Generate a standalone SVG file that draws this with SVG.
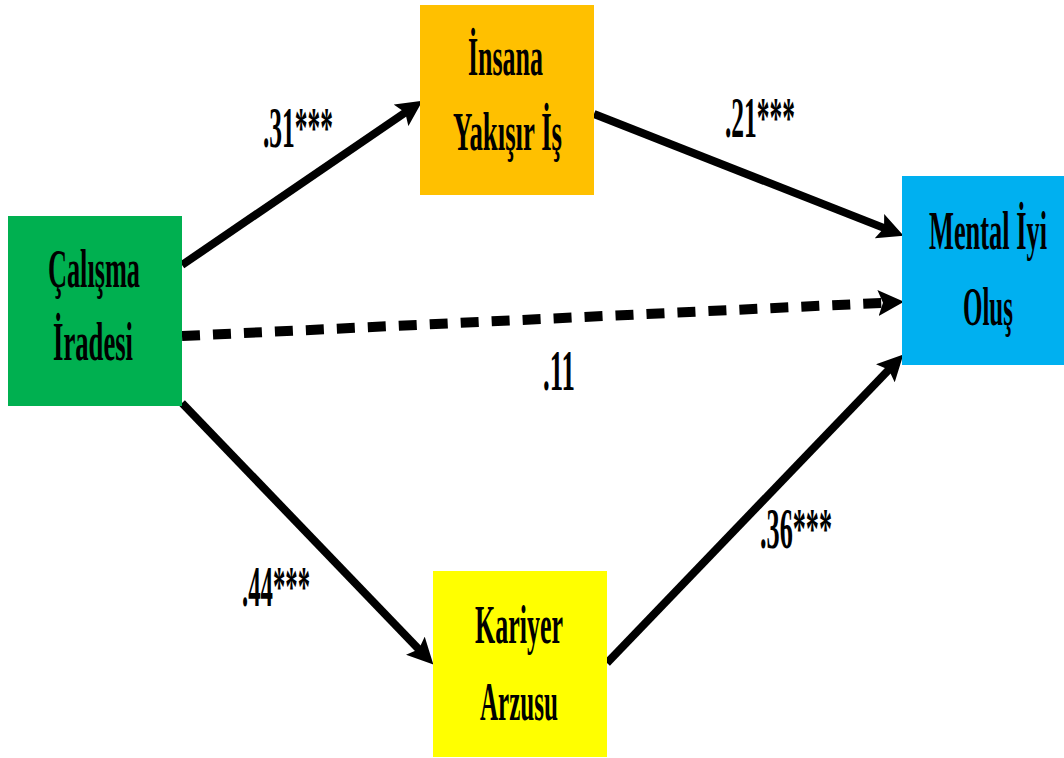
<svg xmlns="http://www.w3.org/2000/svg" width="1064" height="758" viewBox="0 0 1064 758">
<style>
.t{font-family:"Liberation Serif","Times New Roman",serif;font-weight:bold;fill:#000;}
.n{font-size:54px;}
.l{font-size:56px;}
.c{fill:none;stroke:#000;stroke-width:8;}
.d{fill:none;stroke:#000;stroke-width:10;stroke-dasharray:18 13;}
</style>
<defs>
<marker id="ah" markerUnits="userSpaceOnUse" viewBox="0 0 26 26" markerWidth="26" markerHeight="26" refX="6" refY="13" orient="auto">
<path d="M0,0 L26,13 L0,26 L5,13 Z" fill="#000"/>
</marker>
</defs>
<rect width="1064" height="758" fill="#fff"/>
<g id="connectors">
<line class="c" x1="182" y1="265" x2="406" y2="112" marker-end="url(#ah)"/>
<line class="c" x1="594" y1="114" x2="885" y2="228.4" marker-end="url(#ah)"/>
<line class="d" x1="182" y1="336" x2="884" y2="302.8" marker-end="url(#ah)"/>
<line class="c" x1="182" y1="403" x2="419.5" y2="650" marker-end="url(#ah)"/>
<line class="c" x1="607" y1="663" x2="889.5" y2="369" marker-end="url(#ah)"/>
<g id="labels" transform="scale(0.5,1)">
<text class="t l" x="526" y="147" textLength="140" lengthAdjust="spacingAndGlyphs">.31***</text>
<text class="t l" x="1450" y="137" textLength="140" lengthAdjust="spacingAndGlyphs">.21***</text>
<text class="t l" x="1086" y="390" textLength="64" lengthAdjust="spacingAndGlyphs">.11</text>
<text class="t l" x="1520" y="548" textLength="144" lengthAdjust="spacingAndGlyphs">.36***</text>
<text class="t l" x="484" y="606" textLength="136" lengthAdjust="spacingAndGlyphs">.44***</text>
</g>
</g>
<g id="calisma">
<rect x="8" y="216" width="174" height="190" fill="#00B050"/>
<g transform="scale(0.5,1)">
<text class="t n" x="96" y="287" textLength="184" lengthAdjust="spacingAndGlyphs">Çalışma</text>
<text class="t n" x="106" y="360" textLength="160" lengthAdjust="spacingAndGlyphs">İradesi</text>
</g>
</g>
<g id="insana">
<rect x="420" y="5" width="174" height="190" fill="#FFC000"/>
<g transform="scale(0.5,1)">
<text class="t n" x="936" y="75" textLength="150" lengthAdjust="spacingAndGlyphs">İnsana</text>
<text class="t n" x="906" y="150" textLength="218" lengthAdjust="spacingAndGlyphs">Yakışır İş</text>
</g>
</g>
<g id="mental">
<rect x="902" y="176" width="162" height="189" fill="#00B0F0"/>
<g transform="scale(0.5,1)">
<text class="t n" x="1858" y="249" textLength="236" lengthAdjust="spacingAndGlyphs">Mental İyi</text>
<text class="t n" x="1926" y="325" textLength="100" lengthAdjust="spacingAndGlyphs">Oluş</text>
</g>
</g>
<g id="kariyer">
<rect x="433" y="571" width="174" height="186" fill="#FFFF00"/>
<g transform="scale(0.5,1)">
<text class="t n" x="950" y="643" textLength="176" lengthAdjust="spacingAndGlyphs">Kariyer</text>
<text class="t n" x="960" y="720" textLength="156" lengthAdjust="spacingAndGlyphs">Arzusu</text>
</g>
</g>
</svg>
